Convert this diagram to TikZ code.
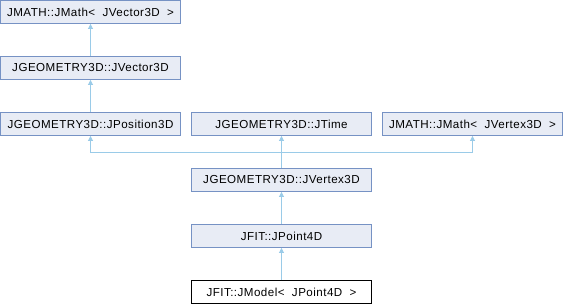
\documentclass[tikz,border=0pt]{standalone}
\usepackage{fontspec}
\setmainfont{Liberation Sans}[LetterSpace=4]
\usetikzlibrary{arrows.meta}
\definecolor{boxfill}{RGB}{232,236,245}
\definecolor{boxline}{RGB}{118,146,196}
\definecolor{edgecol}{RGB}{154,203,232}
\tikzset{
  cls/.style={draw=boxline, fill=boxfill, line width=0.9pt, minimum width=180pt, minimum height=23pt, inner sep=0pt, font=\fontsize{11.6}{13}\selectfont},
  clsmain/.style={cls, draw=black, fill=white},
  inh/.style={draw=edgecol, line width=0.9pt, -{Triangle[length=5pt,width=5pt]}}
}
\begin{document}
\begin{tikzpicture}[x=1pt,y=-1pt]
\useasboundingbox (0,0) rectangle (563,304);
\node[cls] (mv) at (90.5,12) {JMATH::JMath<\ \ JVector3D\ \ >};
\node[cls] (vec) at (90.5,68) {JGEOMETRY3D::JVector3D};
\node[cls] (pos) at (90.5,124) {JGEOMETRY3D::JPosition3D};
\node[cls] (time) at (281.5,124) {JGEOMETRY3D::JTime};
\node[cls] (mvx) at (472.5,124) {JMATH::JMath<\ \ JVertex3D\ \ >};
\node[cls] (vx) at (281.5,180) {JGEOMETRY3D::JVertex3D};
\node[cls] (p4) at (281.5,236) {JFIT::JPoint4D};
\node[clsmain] (mod) at (281.5,292) {JFIT::JModel<\ \ JPoint4D\ \ >};
\coordinate (j) at (281.5,152.3);
\draw[inh] (vec) -- (mv);
\draw[inh] (pos) -- (vec);
\draw[inh] (vx.north) -- (j) -| (pos.south);
\draw[inh] (vx.north) -- (time.south);
\draw[inh] (vx.north) -- (j) -| (mvx.south);
\draw[inh] (p4) -- (vx);
\draw[inh] (mod) -- (p4);
\end{tikzpicture}
\end{document}
